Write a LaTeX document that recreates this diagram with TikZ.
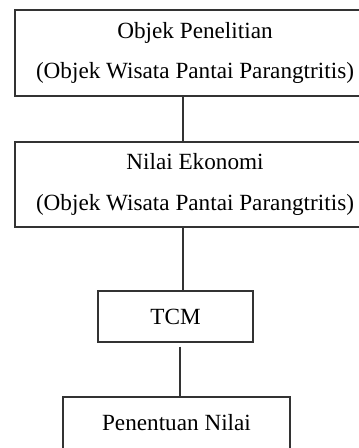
\documentclass[tikz,border=0pt]{standalone}
\usepackage{fontspec}
\setmainfont{Liberation Serif}
\begin{document}
\begin{tikzpicture}[x=1pt,y=-1pt,
  box/.style={draw=black!80,line width=1.2pt,rectangle,align=center,inner sep=0pt,
    font=\fontsize{23.2}{40.5}\selectfont},
  conn/.style={draw=black!80,line width=1.2pt}]
\useasboundingbox (0,0) rectangle (359,448);
\clip (0,0) rectangle (359,448);
\node[box,minimum width=360pt,minimum height=86pt] (b1) at (195,53)
  {Objek Penelitian\\(Objek Wisata Pantai Parangtritis)};
\node[box,minimum width=360pt,minimum height=85pt] (b2) at (195,184.5)
  {Nilai Ekonomi\\(Objek Wisata Pantai Parangtritis)};
\node[box,minimum width=155pt,minimum height=51pt] (tcm) at (175.5,316.5) {TCM};
\node[box,minimum width=227pt,minimum height=52pt] (b4) at (176.5,423) {Penentuan Nilai};
\draw[conn] ([xshift=-12pt]b1.south) -- ([xshift=-12pt]b2.north);
\draw[conn] ([xshift=-12pt]b2.south) -- ([xshift=7.5pt]tcm.north);
\draw[conn] ([xshift=4.5pt,yshift=-4pt]tcm.south) -- ([xshift=3.5pt]b4.north);
\end{tikzpicture}
\end{document}
